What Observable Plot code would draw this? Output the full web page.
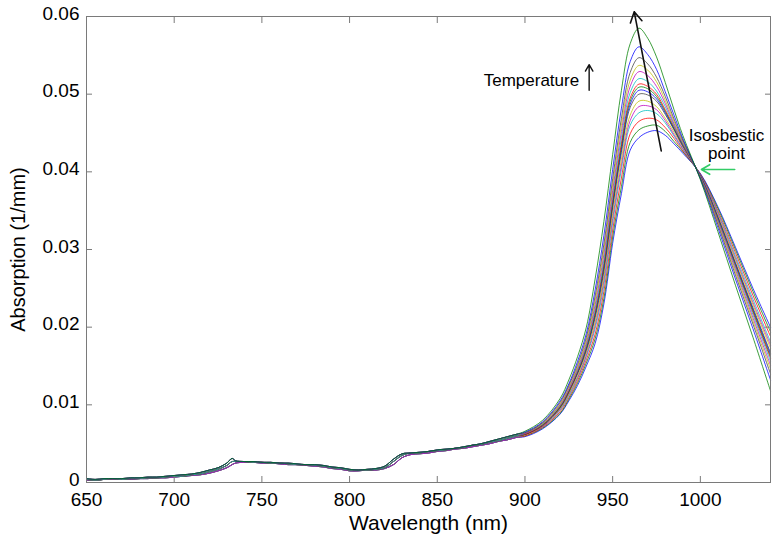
<!DOCTYPE html>
<html>
<head>
<meta charset="utf-8">
<script src="https://cdn.jsdelivr.net/npm/d3@7"></script>
<script src="https://cdn.jsdelivr.net/npm/@observablehq/plot@0.6"></script>
<style>
  html, body { margin: 0; padding: 0; background: #fff; }
</style>
</head>
<body>
<div id="chart"></div>
<script>
// ---------- DATA ----------
const xTicks = [650, 700, 750, 800, 850, 900, 950, 1000];
const xTickLabels = ["650", "700", "750", "800", "850", "900", "950", "1000"];
const yTicks = [0, 0.01, 0.02, 0.03, 0.04, 0.05, 0.06];
const yTickLabels = ["0", "0.01", "0.02", "0.03", "0.04", "0.05", "0.06"];
const xLabel = "Wavelength (nm)";
const yLabel = "Absorption (1/mm)";

// 16 spectra, coldest (T01) to hottest (T16)
const curveIds = ["T01","T02","T03","T04","T05","T06","T07","T08","T09","T10","T11","T12","T13","T14","T15","T16"];
const curveColors = ["#0000ff","#008000","#ff0000","#00bfbf","#bf00bf","#bfbf00","#404040",
                     "#0000ff","#008000","#ff0000","#00bfbf","#bf00bf","#bfbf00","#404040",
                     "#0000ff","#008000"];
const baseGroup = ["cold","cold","cold","cold","cold","mid","mid","mid","mid","mid","mid","hot","hot","hot","hot","hot"];

// low-absorption part (650–895 nm), nearly shared by all spectra
const baseWl = [650,655,660,665,670,675,680,685,690,695,700,705,710,715,720,725,730,733,
                735,740,745,750,755,760,765,770,775,780,785,790,795,800,805,810,815,820,825,830,
                835,840,845,850,855,860,865,870,875,880,885,890,895];
const baseCold = [0.0003,0.0003,0.0004,0.0004,0.0004,0.0004,0.0005,0.0005,0.0006,0.0006,0.0007,0.0008,0.0009,0.0010,0.0012,0.0015,0.0019,0.0023,
                  0.0025,0.0026,0.0026,0.0025,0.0025,0.0024,0.0023,0.0023,0.0022,0.0021,0.0020,0.0018,0.0017,0.0015,0.0015,0.0016,0.0016,0.0018,0.0023,0.0032,
                  0.0036,0.0037,0.0038,0.0040,0.0041,0.0043,0.0044,0.0046,0.0048,0.0050,0.0053,0.0055,0.0058];
const baseMid  = [0.0004,0.0003,0.0004,0.0005,0.0004,0.0005,0.0005,0.0006,0.0006,0.0007,0.0008,0.0008,0.0010,0.0011,0.0014,0.0017,0.0022,0.0027,
                  0.0027,0.0027,0.0026,0.0026,0.0025,0.0025,0.0024,0.0023,0.0023,0.0022,0.0021,0.0019,0.0018,0.0016,0.0016,0.0016,0.0017,0.0019,0.0027,0.0035,
                  0.0038,0.0038,0.0040,0.0041,0.0042,0.0044,0.0045,0.0048,0.0049,0.0052,0.0054,0.0057,0.0060];
const baseHot  = [0.0005,0.0004,0.0005,0.0005,0.0005,0.0006,0.0006,0.0007,0.0007,0.0008,0.0009,0.0010,0.0011,0.0013,0.0016,0.0019,0.0025,0.0031,
                  0.0028,0.0027,0.0027,0.0026,0.0026,0.0025,0.0025,0.0024,0.0023,0.0023,0.0022,0.0020,0.0019,0.0017,0.0016,0.0017,0.0018,0.0021,0.0030,0.0037,
                  0.0038,0.0039,0.0040,0.0042,0.0043,0.0044,0.0046,0.0048,0.0050,0.0053,0.0056,0.0059,0.0062];

// absorption band (900–1040 nm), one array per spectrum
const peakWl = [900,910,920,925,930,935,940,945,950,955,960,965,970,975,980,985,990,1000,1010,1020,1030,1040];
const absT01 = [0.0059,0.0069,0.0088,0.0105,0.0125,0.0150,0.0179,0.0230,0.0308,0.0372,0.0428,0.0444,0.0451,0.0453,0.0447,0.0436,0.0424,0.0398,0.0355,0.0303,0.0250,0.0200];
const absT02 = [0.0060,0.0070,0.0089,0.0107,0.0128,0.0154,0.0185,0.0237,0.0316,0.0381,0.0438,0.0454,0.0459,0.0460,0.0452,0.0439,0.0426,0.0397,0.0353,0.0300,0.0246,0.0194];
const absT03 = [0.0060,0.0071,0.0091,0.0109,0.0131,0.0158,0.0191,0.0246,0.0325,0.0392,0.0449,0.0465,0.0469,0.0467,0.0457,0.0443,0.0427,0.0397,0.0350,0.0296,0.0241,0.0188];
const absT04 = [0.0061,0.0072,0.0093,0.0111,0.0134,0.0162,0.0198,0.0254,0.0334,0.0403,0.0460,0.0476,0.0479,0.0475,0.0463,0.0446,0.0429,0.0396,0.0348,0.0292,0.0236,0.0181];
const absT05 = [0.0061,0.0072,0.0094,0.0113,0.0135,0.0164,0.0202,0.0260,0.0340,0.0409,0.0466,0.0484,0.0485,0.0480,0.0466,0.0448,0.0430,0.0396,0.0346,0.0289,0.0232,0.0177];
const absT06 = [0.0061,0.0073,0.0095,0.0114,0.0137,0.0167,0.0206,0.0265,0.0346,0.0416,0.0473,0.0491,0.0491,0.0484,0.0469,0.0451,0.0432,0.0395,0.0344,0.0287,0.0229,0.0173];
const absT07 = [0.0062,0.0073,0.0096,0.0116,0.0140,0.0170,0.0212,0.0272,0.0354,0.0425,0.0483,0.0500,0.0499,0.0491,0.0474,0.0454,0.0433,0.0395,0.0342,0.0283,0.0225,0.0167];
const absT08 = [0.0062,0.0074,0.0097,0.0117,0.0141,0.0172,0.0215,0.0276,0.0357,0.0429,0.0487,0.0505,0.0503,0.0494,0.0476,0.0455,0.0434,0.0395,0.0341,0.0282,0.0223,0.0165];
const absT09 = [0.0062,0.0074,0.0097,0.0117,0.0142,0.0173,0.0217,0.0279,0.0360,0.0433,0.0491,0.0509,0.0507,0.0497,0.0478,0.0456,0.0435,0.0394,0.0340,0.0280,0.0221,0.0162];
const absT10 = [0.0062,0.0074,0.0098,0.0118,0.0143,0.0175,0.0220,0.0282,0.0364,0.0437,0.0495,0.0513,0.0510,0.0500,0.0480,0.0458,0.0435,0.0394,0.0339,0.0279,0.0219,0.0160];
const absT11 = [0.0063,0.0075,0.0099,0.0120,0.0145,0.0177,0.0224,0.0287,0.0370,0.0444,0.0502,0.0520,0.0516,0.0504,0.0484,0.0460,0.0436,0.0394,0.0338,0.0277,0.0216,0.0156];
const absT12 = [0.0063,0.0076,0.0100,0.0121,0.0147,0.0180,0.0229,0.0294,0.0376,0.0452,0.0510,0.0529,0.0524,0.0510,0.0488,0.0462,0.0438,0.0393,0.0336,0.0274,0.0212,0.0151];
const absT13 = [0.0064,0.0076,0.0101,0.0123,0.0149,0.0183,0.0234,0.0300,0.0383,0.0460,0.0518,0.0537,0.0531,0.0516,0.0492,0.0465,0.0439,0.0393,0.0334,0.0271,0.0208,0.0146];
const absT14 = [0.0064,0.0077,0.0103,0.0125,0.0152,0.0187,0.0240,0.0307,0.0391,0.0469,0.0528,0.0547,0.0539,0.0522,0.0497,0.0468,0.0441,0.0392,0.0332,0.0267,0.0204,0.0140];
const absT15 = [0.0065,0.0078,0.0105,0.0127,0.0156,0.0192,0.0248,0.0318,0.0403,0.0482,0.0542,0.0561,0.0551,0.0532,0.0503,0.0473,0.0443,0.0391,0.0328,0.0262,0.0198,0.0132];
const absT16 = [0.0066,0.0080,0.0108,0.0132,0.0162,0.0200,0.0262,0.0336,0.0422,0.0505,0.0565,0.0585,0.0572,0.0548,0.0515,0.0480,0.0447,0.0390,0.0323,0.0254,0.0187,0.0118];

// annotations (data coordinates)
const tempArrow = {x1: 977.7, y1: 0.0427, x2: 962.3, y2: 0.0606};
const tempLabel = {x: 930.9, y: 0.0517, text: "Temperature"};
const tempUpArrow = {x1: 936.6, y1: 0.0505, x2: 936.6, y2: 0.0538};
const isoLabel = {x: 1014.9, y: 0.04357, text: "Isosbestic\npoint"};
const isoArrow = {x1: 1019.6, y1: 0.0403, x2: 1000.6, y2: 0.0403};

// ---------- BUILD TABLE ----------
const series = [absT01,absT02,absT03,absT04,absT05,absT06,absT07,absT08,absT09,absT10,absT11,absT12,absT13,absT14,absT15,absT16];
const baseByGroup = {cold: baseCold, mid: baseMid, hot: baseHot};
const rows = [];
curveIds.forEach((id, i) => {
  const base = baseByGroup[baseGroup[i]];
  baseWl.forEach((w, j) => rows.push({curve: id, wl: w, a: base[j]}));
  peakWl.forEach((w, j) => rows.push({curve: id, wl: w, a: series[i][j]}));
});

const frameColor = "#7a7a7a";

const chart = Plot.plot({
  width: 779,
  height: 547,
  marginLeft: 86,
  marginRight: 9,
  marginTop: 16,
  marginBottom: 65,
  style: {fontFamily: "'Liberation Sans', Arial, Helvetica, sans-serif", fontSize: "19px", background: "#fff", color: "#000"},
  x: {domain: [650, 1040]},
  y: {domain: [0, 0.06]},
  color: {domain: curveIds, range: curveColors},
  marks: [
    Plot.line(rows, {x: "wl", y: "a", z: "curve", stroke: "curve", strokeWidth: 0.9, strokeOpacity: 0.85, curve: "catmull-rom"}),
    Plot.frame({stroke: frameColor}),
    // inward tick marks on all four sides
    Plot.axisX(xTicks, {anchor: "bottom", tickSize: 6, dy: -6, stroke: frameColor, tickFormat: () => "", label: null}),
    Plot.axisX(xTicks, {anchor: "top", tickSize: 6, dy: 6, stroke: frameColor, tickFormat: () => "", label: null}),
    Plot.axisY(yTicks, {anchor: "left", tickSize: 6, dx: 6, stroke: frameColor, tickFormat: () => "", label: null}),
    Plot.axisY(yTicks, {anchor: "right", tickSize: 6, dx: -6, stroke: frameColor, tickFormat: () => "", label: null}),
    // tick labels
    Plot.axisX(xTicks, {anchor: "bottom", tickSize: 0, tickPadding: 10, tickFormat: d => xTickLabels[xTicks.indexOf(d)], label: null}),
    Plot.axisY(yTicks, {anchor: "left", tickSize: 0, tickPadding: 7, dy: -3, tickFormat: d => yTickLabels[yTicks.indexOf(d)], label: null}),
    // axis titles
    Plot.text([xLabel], {frameAnchor: "bottom", dy: 47, text: d => d, fontSize: 21}),
    Plot.text([yLabel], {frameAnchor: "left", dx: -68, rotate: -90, textAnchor: "middle", text: d => d, fontSize: 20}),
    // annotations
    Plot.arrow([tempArrow], {x1: "x1", y1: "y1", x2: "x2", y2: "y2", stroke: "#111", strokeWidth: 1.6, headLength: 11}),
    Plot.text([tempLabel], {x: "x", y: "y", text: "text", textAnchor: "end", fontSize: 17}),
    Plot.arrow([tempUpArrow], {x1: "x1", y1: "y1", x2: "x2", y2: "y2", stroke: "#111", strokeWidth: 1.4, headLength: 8}),
    Plot.text([isoLabel], {x: "x", y: "y", text: "text", fontSize: 17, lineHeight: 1.08}),
    Plot.arrow([isoArrow], {x1: "x1", y1: "y1", x2: "x2", y2: "y2", stroke: "#33cc66", strokeWidth: 1.6, headLength: 9})
  ]
});
document.getElementById("chart").appendChild(chart);
</script>
</body>
</html>
